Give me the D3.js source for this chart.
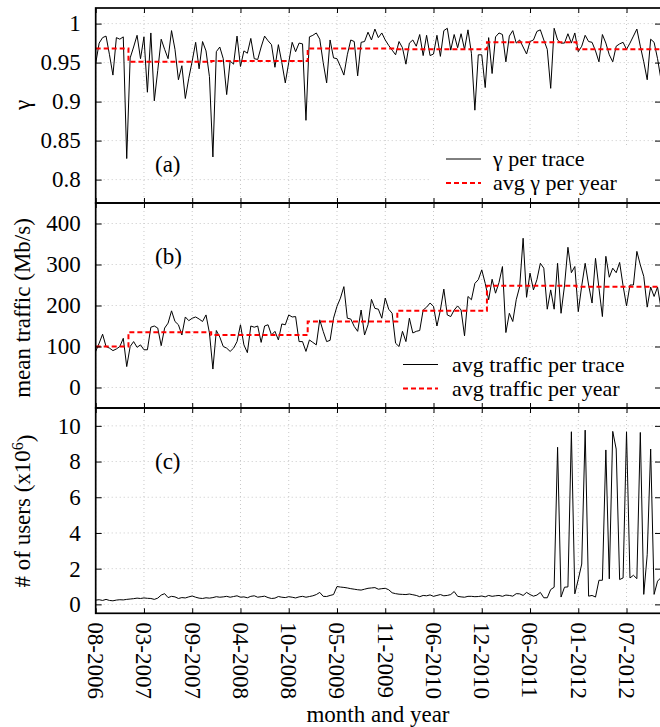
<!DOCTYPE html>
<html>
<head>
<meta charset="utf-8">
<script src="https://cdn.jsdelivr.net/npm/d3@7"></script>
<style>
    body { margin: 0; background: #fff; }
    svg text { font-family: "Liberation Serif", serif; fill: #000; }
</style>
</head>
<body>
<svg id="chart" width="660" height="727"></svg>
<script>
// labelled x ticks, one every 14 traces
const tickLabels = ["08-2006", "03-2007", "09-2007", "04-2008", "10-2008", "05-2009",
    "11-2009", "06-2010", "12-2010", "06-2011", "01-2012", "07-2012"];
const tracesPerTick = 14;

// index of the first trace of each year (2006 .. 2012)
const yearStart = [0, 10, 34, 62, 88, 114, 140];

const gammaTicks = [0.8, 0.85, 0.9, 0.95, 1];
const trafficTicks = [0, 100, 200, 300, 400];
const usersTicks = [0, 2, 4, 6, 8, 10];

// (a) gamma per trace
const gammaValues = [
    0.949, 0.975, 0.982, 0.984, 0.96, 0.934, 0.982, 0.980, 0.983, 0.827,
    0.956, 0.97, 0.985, 0.955, 0.983, 0.912, 0.988, 0.901, 0.94, 0.980,
    0.967, 0.955, 0.991, 0.967, 0.928, 0.946, 0.904, 0.93, 0.952, 0.976,
    0.942, 0.977, 0.965, 0.932, 0.829, 0.964, 0.970, 0.955, 0.909, 0.952,
    0.948, 0.984, 0.945, 0.965, 0.962, 0.981, 0.955, 0.954, 0.97, 0.984,
    0.978, 0.973, 0.944, 0.973, 0.95, 0.924, 0.95, 0.976, 0.964, 0.975,
    0.974, 0.876, 0.983, 0.985, 0.988, 0.98, 0.95, 0.924, 0.979, 0.956,
    0.955, 0.945, 0.934, 0.96, 0.979, 0.977, 0.933, 0.976, 0.977, 0.989,
    0.979, 0.993, 0.982, 0.988, 0.979, 0.972, 0.966, 0.96, 0.977, 0.969,
    0.948, 0.975, 0.979, 0.971, 0.986, 0.959, 0.985, 0.959, 0.961, 0.985,
    0.958, 0.991, 0.994, 0.966, 0.986, 0.969, 0.987, 0.967, 0.992, 0.962,
    0.889, 0.96, 0.96, 0.918, 0.982, 0.936, 0.983, 0.988, 0.986, 0.951,
    0.984, 0.991, 0.975, 0.979, 0.97, 0.961, 0.977, 0.979, 0.99, 0.992,
    0.979, 0.967, 0.917, 0.994, 0.979, 0.975, 0.975, 0.987, 0.975, 0.988,
    0.964, 0.971, 0.985, 0.977, 0.976, 0.965, 0.951, 0.986, 0.975, 0.96,
    0.951, 0.971, 0.974, 0.976, 0.967, 0.975, 0.984, 0.993, 0.971, 0.951,
    0.928, 0.98, 0.976, 0.955, 0.928
];
const gammaYearAvg = [0.968, 0.951, 0.952, 0.968, 0.967, 0.976, 0.967];

// (b) mean traffic per trace, Mb/s
const trafficValues = [
    88, 108, 130, 100, 96, 90, 94, 100, 120, 51,
    100, 112, 98, 104, 92, 92, 147, 150, 145, 102,
    145, 157, 187, 161, 153, 128, 172, 163, 169, 172,
    167, 161, 177, 133, 45, 139, 123, 100, 96, 88,
    96, 112, 153, 104, 85, 150, 147, 150, 110, 150,
    153, 128, 137, 116, 155, 153, 177, 172, 173, 112,
    112, 88, 116, 110, 104, 165, 137, 112, 115, 169,
    198, 218, 246, 169, 167, 149, 137, 189, 128, 153,
    215, 193, 191, 169, 218, 191, 181, 108, 100, 137,
    112, 169, 133, 137, 139, 189, 196, 206, 198, 150,
    189, 240, 177, 173, 189, 199, 189, 126, 222, 214,
    254, 263, 287, 254, 214, 264, 230, 256, 295, 134,
    181, 161, 214, 246, 364, 220, 279, 238, 263, 303,
    291, 191, 238, 191, 303, 181, 248, 342, 280, 295,
    185, 248, 303, 250, 206, 315, 242, 173, 320, 269,
    291, 280, 305, 248, 199, 250, 250, 332, 299, 271,
    196, 245, 222, 245, 193
];
const trafficYearAvg = [100, 135, 128, 161, 187, 248, 246];

// (c) number of users, millions
const usersValues = [
    0.24, 0.26, 0.22, 0.28, 0.22, 0.2, 0.24, 0.26, 0.25, 0.28,
    0.3, 0.32, 0.35, 0.33, 0.36, 0.34, 0.33, 0.28, 0.35, 0.52,
    0.6, 0.38, 0.45, 0.42, 0.33, 0.38, 0.36, 0.42, 0.47, 0.4,
    0.35, 0.33, 0.37, 0.35, 0.38, 0.43, 0.4, 0.42, 0.45, 0.4,
    0.44, 0.48, 0.4, 0.42, 0.37, 0.45, 0.48, 0.4, 0.43, 0.46,
    0.38, 0.33, 0.35, 0.44, 0.4, 0.38, 0.43, 0.4, 0.36, 0.42,
    0.45, 0.4, 0.44, 0.48, 0.55, 0.67, 0.45, 0.44, 0.5, 0.55,
    1.0, 0.97, 0.95, 0.92, 0.88, 0.85, 0.82, 0.8, 0.85, 0.9,
    0.92, 0.94, 0.85, 0.88, 0.9, 0.82, 0.65, 0.6, 0.57, 0.56,
    0.55, 0.58, 0.54, 0.5, 0.43, 0.5, 0.48, 0.53, 0.45, 0.5,
    0.55, 0.48, 0.5, 0.55, 0.72, 0.45, 0.42, 0.4, 0.45, 0.45,
    0.43, 0.44, 0.47, 0.42, 0.5, 0.45, 0.48, 0.5, 0.45, 0.52,
    0.5, 0.46, 0.6, 0.59, 0.5, 0.67, 0.55, 0.46, 0.52, 0.67,
    0.37, 0.37, 0.83, 0.96, 8.8, 0.41, 0.96, 0.98, 9.67, 0.59,
    1.4, 2.26, 9.76, 0.46, 0.5, 0.41, 1.35, 1.35, 8.65, 1.43,
    9.69, 8.7, 1.39, 1.48, 9.67, 1.48, 1.63, 1.44, 9.63, 0.56,
    2.78, 8.7, 0.56, 1.3, 1.5
];

const plotLeft = 95.7;
const plotRight = 661;
const fontSize = 23;
const legendFont = 22;
const serif = '"Liberation Serif", serif';

const svg = d3.select('#chart');

const xScale = d3.scaleLinear()
    .domain([0, 164])
    .range([plotLeft, plotRight]);
const xTicks = tickLabels.map((d, i) => i * tracesPerTick);

const panels = [
    { id: 'a', top: 8, bottom: 203, domain: [0.77, 1.02], ticks: gammaTicks, values: gammaValues,
      avg: gammaYearAvg, tag: '(a)', tagY: 172, title: 'γ', titleY: 105,
      legend: { box: [430, 146, 231, 56], rows: [['γ per trace', 159], ['avg γ per year', 183]], x1: 446, x2: 481, tx: 493 } },
    { id: 'b', top: 203, bottom: 408, domain: [-50, 450], ticks: trafficTicks, values: trafficValues,
      avg: trafficYearAvg, tag: '(b)', tagY: 264, title: 'mean traffic (Mb/s)', titleY: 308,
      legend: { box: [393, 354, 268, 53], rows: [['avg traffic per trace', 364.5], ['avg traffic per year', 388.5]], x1: 403, x2: 438, tx: 452 } },
    { id: 'c', top: 408, bottom: 613.3, domain: [-0.5, 11], ticks: usersTicks, values: usersValues,
      avg: null, tag: '(c)', tagY: 469, title: null, titleY: 511 }
];

panels.forEach(p => drawPanel(p));

function drawPanel(p) {
    const yScale = d3.scaleLinear().domain(p.domain).range([p.bottom, p.top]);
    const g = svg.append('g').attr('class', 'panel-' + p.id);

    g.append('clipPath').attr('id', 'clip-' + p.id)
        .append('rect')
        .attr('x', plotLeft).attr('y', p.top)
        .attr('width', plotRight - plotLeft).attr('height', p.bottom - p.top);

    // dotted grid
    g.append('g').selectAll('line')
        .data(p.ticks).enter().append('line')
        .attr('x1', plotLeft).attr('x2', plotRight)
        .attr('y1', d => yScale(d)).attr('y2', d => yScale(d))
        .attr('stroke', '#c8c8c8').attr('stroke-width', 1).attr('stroke-dasharray', '1,3');
    g.append('g').selectAll('line')
        .data(xTicks).enter().append('line')
        .attr('x1', d => xScale(d)).attr('x2', d => xScale(d))
        .attr('y1', p.top).attr('y2', p.bottom)
        .attr('stroke', '#c8c8c8').attr('stroke-width', 1).attr('stroke-dasharray', '1,3');

    // legend sits on an opaque box
    if (p.legend) {
        const b = p.legend.box;
        g.append('rect').attr('x', b[0]).attr('y', b[1]).attr('width', b[2]).attr('height', b[3])
            .attr('fill', '#fff');
    }

    const line = d3.line().x((d, i) => xScale(i)).y(d => yScale(d));
    g.append('path')
        .datum(p.values)
        .attr('clip-path', `url(#clip-${p.id})`)
        .attr('fill', 'none')
        .attr('stroke', '#000')
        .attr('stroke-width', 1)
        .attr('d', line);

    if (p.avg) {
        const yearly = p.values.map((d, i) => p.avg[d3.bisectRight(yearStart, i) - 1]);
        g.append('path')
            .datum(yearly)
            .attr('clip-path', `url(#clip-${p.id})`)
            .attr('fill', 'none')
            .attr('stroke', '#ff0000')
            .attr('stroke-width', 2)
            .attr('stroke-dasharray', '5,3')
            .attr('d', line.curve(d3.curveStep));
    }

    // axes, ticks pointing inward on every side
    const yAxis = d3.axisLeft(yScale).tickValues(p.ticks).tickSizeInner(-6).tickSizeOuter(0)
        .tickPadding(15).tickFormat(d => String(d));
    const yAxisG = g.append('g').attr('transform', `translate(${plotLeft},0)`).call(yAxis);
    yAxisG.select('.domain').remove();
    yAxisG.selectAll('text').style('font-family', serif).style('font-size', fontSize + 'px');

    const yAxisR = d3.axisRight(yScale).tickValues(p.ticks).tickSizeInner(-6).tickSizeOuter(0).tickFormat('');
    g.append('g').attr('transform', `translate(${plotRight},0)`).call(yAxisR).select('.domain').remove();

    const xTop = d3.axisTop(xScale).tickValues(xTicks).tickSizeInner(-5).tickSizeOuter(0).tickFormat('');
    g.append('g').attr('transform', `translate(0,${p.top})`).call(xTop).select('.domain').remove();
    const xBottom = d3.axisBottom(xScale).tickValues(xTicks).tickSizeInner(-5).tickSizeOuter(0)
        .tickFormat((d, i) => p.id === 'c' ? tickLabels[i] : '');
    const xBottomG = g.append('g').attr('transform', `translate(0,${p.bottom})`).call(xBottom);
    xBottomG.select('.domain').remove();
    if (p.id === 'c') {
        xBottomG.selectAll('text')
            .attr('transform', 'rotate(90)')
            .attr('x', 9)
            .attr('y', 0)
            .attr('dy', '0.35em')
            .style('text-anchor', 'start')
            .style('font-family', serif)
            .style('font-size', fontSize + 'px');
    }

    g.append('rect')
        .attr('x', plotLeft).attr('y', p.top)
        .attr('width', plotRight - plotLeft).attr('height', p.bottom - p.top)
        .attr('fill', 'none').attr('stroke', '#000').attr('stroke-width', 1.7);

    g.append('text')
        .attr('x', 155).attr('y', p.tagY)
        .style('font-family', serif)
        .style('font-size', fontSize + 'px')
        .text(p.tag);

    // y title
    const title = g.append('text')
        .attr('transform', `translate(30,${p.titleY}) rotate(-90)`)
        .attr('text-anchor', 'middle')
        .style('font-family', serif)
        .style('font-size', fontSize + 'px');
    if (p.title) {
        title.text(p.title);
    } else {
        title.append('tspan').text('# of users (x10');
        title.append('tspan').attr('dy', '-0.45em').style('font-size', '16px').text('6');
        title.append('tspan').attr('dy', '0.45em').text(')');
    }

    if (p.legend) {
        const lg = p.legend;
        lg.rows.forEach((r, i) => {
            g.append('line')
                .attr('x1', lg.x1).attr('x2', lg.x2).attr('y1', r[1]).attr('y2', r[1])
                .attr('stroke', i === 0 ? '#000' : '#ff0000')
                .attr('stroke-width', i === 0 ? 1 : 2)
                .attr('stroke-dasharray', i === 0 ? null : '5,3');
            g.append('text')
                .attr('x', lg.tx).attr('y', r[1]).attr('dy', '0.32em')
                .style('font-family', serif)
                .style('font-size', legendFont + 'px')
                .text(r[0]);
        });
    }
}

svg.append('text')
    .attr('x', 378).attr('y', 722)
    .attr('text-anchor', 'middle')
    .style('font-family', serif)
    .style('font-size', fontSize + 'px')
    .text('month and year');
</script>
</body>
</html>
